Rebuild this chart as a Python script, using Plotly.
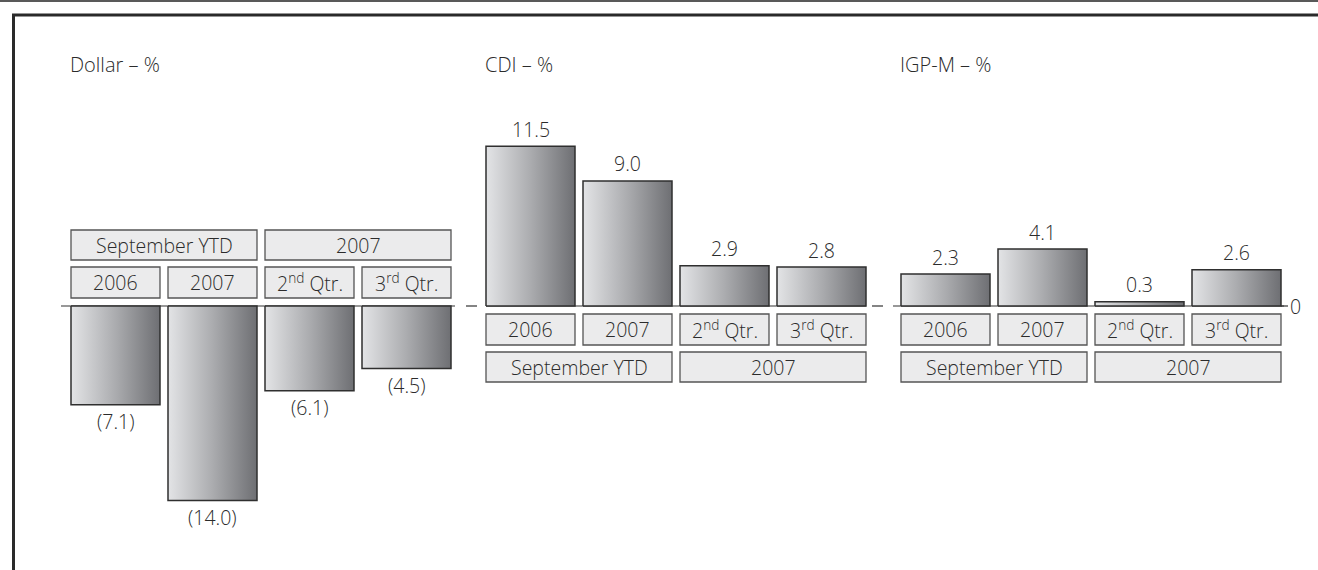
import plotly.graph_objects as go

# ---------------- data ----------------
panel_titles = ["Dollar – %", "CDI – %", "IGP-M – %"]
categories = ["2006", "2007", "2<sup>nd</sup> Qtr.", "3<sup>rd</sup> Qtr."]
groups = ["September YTD", "2007"]
dollar_values = [-7.1, -14.0, -6.1, -4.5]
cdi_values = [11.5, 9.0, 2.9, 2.8]
igpm_values = [2.3, 4.1, 0.3, 2.6]
value_labels_dollar = ["(7.1)", "(14.0)", "(6.1)", "(4.5)"]
value_labels_cdi = ["11.5", "9.0", "2.9", "2.8"]
value_labels_igpm = ["2.3", "4.1", "0.3", "2.6"]

# ---------------- layout / style ----------------
W, H = 1318, 570
PX_PER_UNIT = 13.9
BASE_PX = 306
PANEL_X0 = [71, 486, 901]
BAR_W = 89
BAR_STEP = 97
FONT = "Open Sans"
TXT = "#2b2b2b"
BOX_FILL = "#ebebec"
BOX_LINE = "#555555"
FS = 19.5
# baseline segment extents relative to panel (left pad, right pad)
BASE_PAD = [(10, 4), (0, 0), (8, 3)]

def u(px):
    return px / PX_PER_UNIT

def tfont(size=FS):
    return dict(family=FONT, size=size, color=TXT, weight=300)

fig = go.Figure()
shapes = []
annotations = []

panels = [
    (dollar_values, value_labels_dollar),
    (cdi_values, value_labels_cdi),
    (igpm_values, value_labels_igpm),
]

for p, (vals, labs) in enumerate(panels):
    x0p = PANEL_X0[p]
    neg = all(v <= 0 for v in vals)
    sign = 1 if neg else -1  # label boxes go opposite to bars
    # baseline segment
    shapes.append(dict(type="line", xref="x", yref="y",
                       x0=x0p - BASE_PAD[p][0],
                       x1=x0p + 3 * BAR_STEP + BAR_W + BASE_PAD[p][1],
                       y0=0, y1=0, line=dict(color="#333", width=1.2), layer="below"))
    for i, v in enumerate(vals):
        bx0 = x0p + i * BAR_STEP
        bx1 = bx0 + BAR_W
        fig.add_trace(go.Scatter(
            x=[bx0, bx1, bx1, bx0, bx0], y=[0, 0, v, v, 0],
            mode="lines", fill="toself",
            fillgradient=dict(type="horizontal",
                              colorscale=[[0, "#e3e4e6"], [0.5, "#abacaf"], [1, "#6e6f73"]]),
            line=dict(color="#2f2f2f", width=1.5),
            hoverinfo="skip", showlegend=False))
        annotations.append(dict(x=(bx0 + bx1) / 2, y=v, xref="x", yref="y",
                                text=labs[i], showarrow=False,
                                yshift=(17 if v >= 0 else -17),
                                font=tfont()))
        # category box
        yA, yB = sign * u(8), sign * u(39)
        shapes.append(dict(type="rect", xref="x", yref="y", x0=bx0, x1=bx1,
                           y0=min(yA, yB), y1=max(yA, yB), fillcolor=BOX_FILL,
                           line=dict(color=BOX_LINE, width=1.3)))
        annotations.append(dict(x=(bx0 + bx1) / 2, y=(yA + yB) / 2, xref="x", yref="y",
                                text=categories[i], showarrow=False, font=tfont()))
    # group boxes
    for g in range(2):
        gx0 = x0p + 2 * g * BAR_STEP
        gx1 = gx0 + BAR_STEP + BAR_W
        yA, yB = sign * u(46), sign * u(76)
        shapes.append(dict(type="rect", xref="x", yref="y", x0=gx0, x1=gx1,
                           y0=min(yA, yB), y1=max(yA, yB), fillcolor=BOX_FILL,
                           line=dict(color=BOX_LINE, width=1.3)))
        annotations.append(dict(x=(gx0 + gx1) / 2, y=(yA + yB) / 2, xref="x", yref="y",
                                text=groups[g], showarrow=False, font=tfont()))
    # panel title
    annotations.append(dict(x=x0p - 3, y=1 - 64 / H, xref="x", yref="paper",
                            text=panel_titles[p], showarrow=False,
                            xanchor="left", yanchor="middle", font=tfont(20)))

# dashes between panels
for dx in (466, 872):
    shapes.append(dict(type="line", xref="x", yref="y", x0=dx, x1=dx + 11,
                       y0=0, y1=0, line=dict(color="#333", width=1.2)))
# zero tick and label
shapes.append(dict(type="line", xref="x", yref="y", x0=1281, x1=1288,
                   y0=0, y1=0, line=dict(color="#333", width=1.2)))
annotations.append(dict(x=1288, y=0, xref="x", yref="y", text="0", showarrow=False,
                        xanchor="left", yanchor="middle", font=tfont()))

# frame
shapes.append(dict(type="line", xref="paper", yref="paper", x0=0, x1=1,
                   y0=1 - 1 / H, y1=1 - 1 / H, line=dict(color="#222", width=1.5)))
shapes.append(dict(type="line", xref="x", yref="paper", x0=12, x1=W,
                   y0=1 - 15 / H, y1=1 - 15 / H, line=dict(color="#2a2a2a", width=3)))
shapes.append(dict(type="line", xref="x", yref="paper", x0=13.5, x1=13.5,
                   y0=1 - 14 / H, y1=0, line=dict(color="#2a2a2a", width=3)))

fig.update_layout(
    width=W, height=H,
    margin=dict(l=0, r=0, t=0, b=0),
    paper_bgcolor="white", plot_bgcolor="white",
    xaxis=dict(range=[0, W], visible=False, fixedrange=True),
    yaxis=dict(range=[-u(H - BASE_PX), u(BASE_PX)], visible=False, fixedrange=True),
    shapes=shapes, annotations=annotations, showlegend=False,
)

fig.write_html("out.html", config={"displayModeBar": False},
               post_script="document.body.style.margin='0';")
